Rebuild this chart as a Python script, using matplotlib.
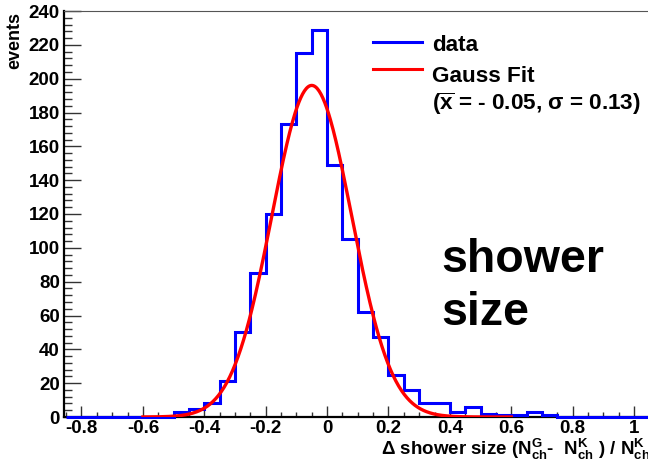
import numpy as np
import matplotlib
matplotlib.use("Agg")
from matplotlib import pyplot as plt
from matplotlib.lines import Line2D

plt.rcParams['font.family'] = ['Liberation Sans', 'DejaVu Sans']
plt.rcParams['font.weight'] = 'bold'
plt.rcParams['mathtext.fontset'] = 'custom'
plt.rcParams['mathtext.rm'] = 'Liberation Sans:bold'
plt.rcParams['mathtext.it'] = 'Liberation Sans:bold'
plt.rcParams['mathtext.bf'] = 'Liberation Sans:bold'
plt.rcParams['mathtext.sf'] = 'Liberation Sans:bold'

# histogram: bins of 0.05
bin_width = 0.05
x_min, x_max = -0.85, 1.30
first_filled_edge = -0.50
filled_counts = [3, 5, 8, 21, 50, 85, 120, 173, 215, 229,
                 149, 105, 62, 47, 25, 16, 8, 8, 3, 6,
                 2, 1, 1, 3, 1]

# gauss fit parameters
fit_mean = -0.05
fit_sigma = 0.13
fit_amp = 196
fit_range = (-0.6, 0.6)

edges = np.round(np.arange(x_min, x_max + bin_width / 2, bin_width), 3)
counts = np.zeros(len(edges) - 1)
start = int(round((first_filled_edge - x_min) / bin_width))
counts[start:start + len(filled_counts)] = filled_counts

xf = np.linspace(fit_range[0], fit_range[1], 400)
yf = fit_amp * np.exp(-0.5 * ((xf - fit_mean) / fit_sigma) ** 2)

W, H = 648, 467
fig = plt.figure(figsize=(W / 100, H / 100), dpi=100)
ax_left, ax_bottom = 64, 50
px_per_unit = 307
xlim = (-0.857, x_max)
ax_w = (xlim[1] - xlim[0]) * px_per_unit
ax = fig.add_axes([ax_left / W, ax_bottom / H, ax_w / W, 406 / H])

ax.stairs(counts, edges, color='#0000ff', lw=2.2, zorder=3, clip_on=False)
ax.plot(xf, yf, color='#ff0000', lw=2.4, zorder=4)

ax.set_xlim(*xlim)
ax.set_ylim(0, 240)
ax.set_xticks(np.arange(-0.8, 1.01, 0.2))
ax.set_xticklabels(['-0.8', '-0.6', '-0.4', '-0.2', '0', '0.2', '0.4', '0.6', '0.8', '1'])
ax.set_xticks(np.arange(-0.85, 1.3, 0.05), minor=True)
ax.set_yticks(np.arange(0, 241, 20))
ax.set_yticks(np.arange(0, 241, 4), minor=True)

ax.tick_params(axis='both', which='both', direction='in', width=1.0, color='#333333',
               labelsize=13.5, top=False, right=False)
ax.tick_params(axis='y', which='major', length=12, pad=3)
ax.tick_params(axis='y', which='minor', length=5.5)
ax.tick_params(axis='x', which='major', length=8, pad=2.5)
ax.tick_params(axis='x', which='minor', length=3.6)
for lab in ax.get_xticklabels() + ax.get_yticklabels():
    lab.set_fontweight('bold')

ax.spines['left'].set_linewidth(1.6)
ax.spines['bottom'].set_linewidth(1.6)
ax.spines['top'].set_linewidth(0.8)
ax.spines['top'].set_color('#555555')
ax.spines['right'].set_visible(False)

# axis titles
fig.text(15 / W, 1 - 12 / H, 'events', rotation=90, ha='center', va='top',
         fontsize=13, fontweight='bold')
fig.text(381 / W, 1 - 455.5 / H,
         r'$\Delta$ shower size (N$^{G}_{ch}$-  N$^{K}_{ch}$ ) / N$^{K}_{ch}$',
         ha='left', va='baseline', fontsize=13.5, fontweight='bold')

# legend drawn by hand, ROOT style
for yl, col in [(41.7, '#0000ff'), (69.3, '#ff0000')]:
    fig.add_artist(Line2D([373 / W, 422 / W], [1 - yl / H, 1 - yl / H], color=col, lw=2.2))
leg_lines = ['data', 'Gauss Fit', r'($\overline{x}$ = - 0.05, $\sigma$ = 0.13)']
for yl, txt in zip([51, 81.7, 110], leg_lines):
    fig.text(432 / W, 1 - yl / H, txt, ha='left', va='baseline', fontsize=16.2, fontweight='bold')

fig.text(441 / W, 1 - 271.7 / H, 'shower', ha='left', va='baseline', fontsize=33.5, fontweight='bold')
fig.text(441 / W, 1 - 325 / H, 'size', ha='left', va='baseline', fontsize=33.5, fontweight='bold')

fig.savefig('out.png', dpi=100)
